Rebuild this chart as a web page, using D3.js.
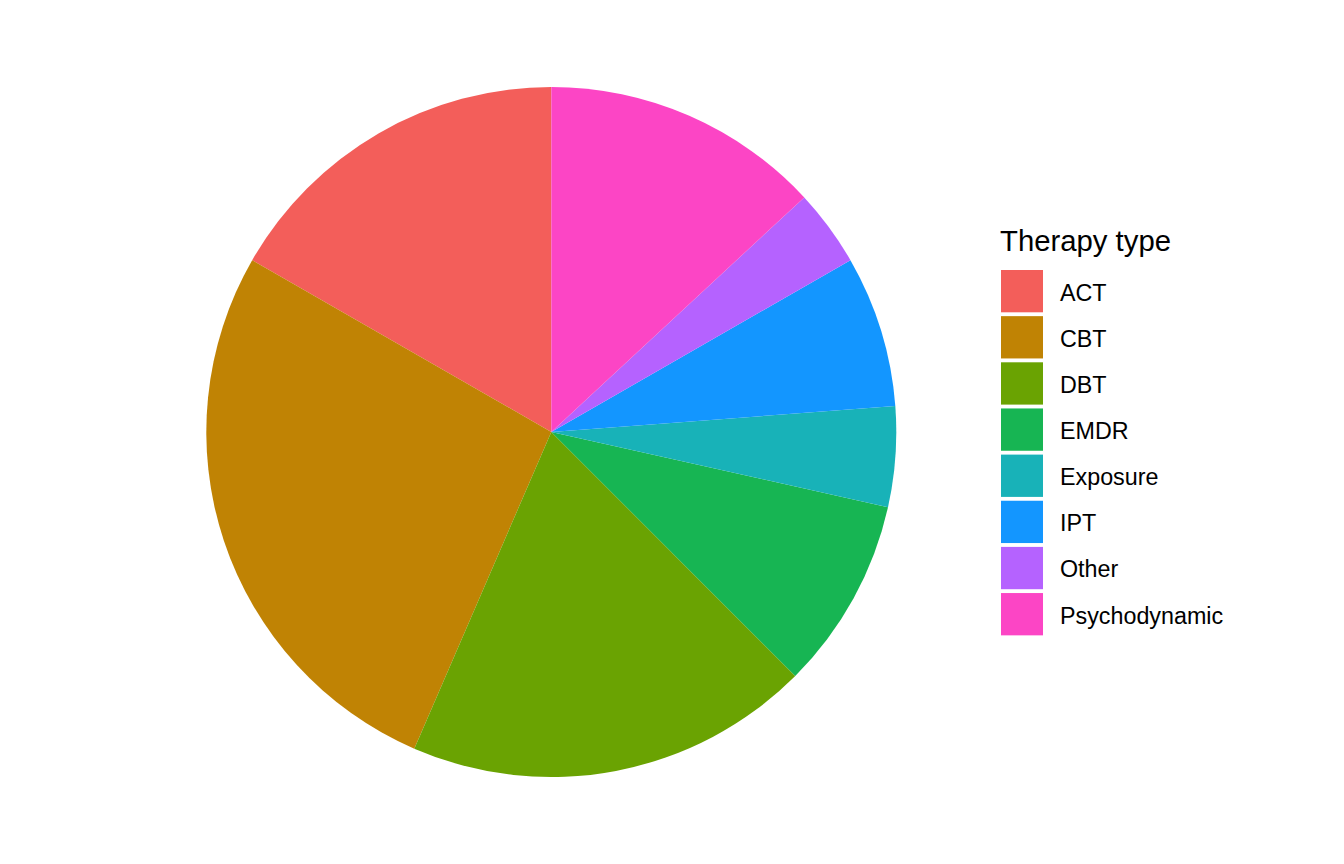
<!DOCTYPE html>
<html>
<head>
<meta charset="utf-8">
<script src="https://cdn.jsdelivr.net/npm/d3@7"></script>
<style>
  body { margin: 0; background: #fff; }
  svg text { font-family: "Liberation Sans", Arial, Helvetica, sans-serif; fill: #000; }
</style>
</head>
<body>
<div id="chart"></div>
<script>
// therapy types and their share (%)
const therapyTypes = ['ACT', 'CBT', 'DBT', 'EMDR', 'Exposure', 'IPT', 'Other', 'Psychodynamic'];
const shares = [16.7, 26.8, 19.0, 9.0, 4.7, 7.1, 3.6, 13.1];
const typeColors = ['#F35E5A', '#C08304', '#6AA302', '#17B553', '#18B2B8', '#1396FF', '#B562FF', '#FC45C5'];

const width = 1344;
const height = 864;

const svg = d3.select('#chart')
  .append('svg')
  .attr('width', width)
  .attr('height', height);

const data = therapyTypes.map((t, i) => ({ type: t, value: shares[i] }));

const color = d3.scaleOrdinal().domain(therapyTypes).range(typeColors);

// ggplot stacks the first level at the top, so run counter-clockwise from 12 o'clock
const pie = d3.pie()
  .sort(null)
  .value(d => d.value)
  .startAngle(2 * Math.PI)
  .endAngle(0);

const arc = d3.arc()
  .innerRadius(0)
  .outerRadius(345);

svg.append('g')
  .attr('transform', 'translate(551.3,432)')
  .selectAll('path')
  .data(pie(data))
  .join('path')
  .attr('d', arc)
  .attr('fill', d => color(d.data.type));

// legend
const legend = svg.append('g')
  .attr('transform', 'translate(1001,270)');

legend.append('text')
  .attr('x', -1)
  .attr('y', -19.5)
  .style('font-size', '29.3px')
  .text('Therapy type');

const keys = legend.selectAll('g.key')
  .data(therapyTypes)
  .join('g')
  .attr('class', 'key')
  .attr('transform', (d, i) => `translate(0,${i * 46.15})`);

keys.append('rect')
  .attr('width', 42)
  .attr('height', 42.3)
  .attr('fill', d => color(d));

keys.append('text')
  .attr('x', 59)
  .attr('y', 30.5)
  .style('font-size', '23.3px')
  .text(d => d);
</script>
</body>
</html>
